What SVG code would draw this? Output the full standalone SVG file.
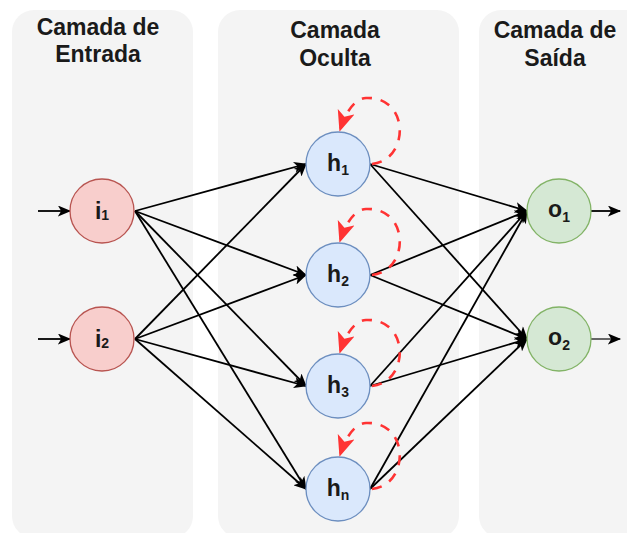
<svg xmlns="http://www.w3.org/2000/svg" width="627" height="533" viewBox="0 0 627 533">
  <style>
    .panel { fill: #f4f4f4; stroke: none; }
    .title { font-family: "Liberation Sans", Arial, sans-serif; font-weight: bold; font-size: 23px; fill: #1a1a1a; text-anchor: middle; }
    .lbl { font-family: "Liberation Sans", Arial, sans-serif; font-weight: bold; font-size: 23px; fill: #1a1a1a; text-anchor: middle; }
    .sub { font-size: 14px; }
    .in { fill: #f8cecc; stroke: #b85450; stroke-width: 1.3; }
    .hid { fill: #dae8fc; stroke: #6c8ebf; stroke-width: 1.3; }
    .out { fill: #d5e8d4; stroke: #82b366; stroke-width: 1.3; }
    .edge { fill: none; stroke: #000; stroke-width: 1.8; marker-end: url(#arrow); }
    .loop { fill: none; stroke: #ff3333; stroke-width: 2.6; stroke-dasharray: 10 9; marker-end: url(#arrowRed); }
  </style>
  <defs>
    <marker id="arrow" viewBox="0 0 12 10" markerWidth="14" markerHeight="11" refX="11" refY="5" markerUnits="userSpaceOnUse" orient="auto">
      <path d="M0,0 L12,5 L0,10 L3,5 Z" fill="#000"/>
    </marker>
    <marker id="arrowRed" viewBox="0 0 12 10" markerWidth="21" markerHeight="18" refX="11" refY="5" markerUnits="userSpaceOnUse" orient="auto">
      <path d="M0,0 L12,5 L0,10 L3,5 Z" fill="#ff3333"/>
    </marker>
    <path id="selfLoop" class="loop" d="M34,0 C72,-4 72,-68 28,-66 C16,-65 8,-52 2,-34"/>
  </defs>

  <!-- layer panels -->
  <g id="panels">
    <rect class="panel" x="12" y="10" width="181" height="528" rx="22"/>
    <rect class="panel" x="218" y="10" width="241" height="528" rx="22"/>
    <rect class="panel" x="479" y="10" width="170" height="528" rx="22"/>
    <text class="title" x="98" y="35">Camada de</text>
    <text class="title" x="98" y="62">Entrada</text>
    <text class="title" x="335" y="38">Camada</text>
    <text class="title" x="335" y="66">Oculta</text>
    <text class="title" x="555" y="38">Camada de</text>
    <text class="title" x="555" y="66">Saída</text>
  </g>

  <!-- connectors -->
  <g id="connectors">
    <line class="edge" x1="38" y1="211" x2="70" y2="211"/>
    <line class="edge" x1="38" y1="339" x2="70" y2="339"/>

    <line class="edge" x1="135" y1="211" x2="306" y2="164"/>
    <line class="edge" x1="135" y1="211" x2="306" y2="275"/>
    <line class="edge" x1="135" y1="211" x2="306" y2="386"/>
    <line class="edge" x1="135" y1="211" x2="306" y2="489"/>
    <line class="edge" x1="135" y1="339" x2="306" y2="164"/>
    <line class="edge" x1="135" y1="339" x2="306" y2="275"/>
    <line class="edge" x1="135" y1="339" x2="306" y2="386"/>
    <line class="edge" x1="135" y1="339" x2="306" y2="489"/>

    <line class="edge" x1="370" y1="164" x2="527" y2="211"/>
    <line class="edge" x1="370" y1="164" x2="527" y2="339"/>
    <line class="edge" x1="370" y1="275" x2="527" y2="211"/>
    <line class="edge" x1="370" y1="275" x2="527" y2="339"/>
    <line class="edge" x1="370" y1="386" x2="527" y2="211"/>
    <line class="edge" x1="370" y1="386" x2="527" y2="339"/>
    <line class="edge" x1="370" y1="489" x2="527" y2="211"/>
    <line class="edge" x1="370" y1="489" x2="527" y2="339"/>

    <line class="edge" x1="591" y1="211" x2="620" y2="211"/>
    <line class="edge" x1="591" y1="339" x2="620" y2="339" style="stroke:#555"/>

    <!-- recurrent self-loops on hidden units -->
    <use href="#selfLoop" x="338" y="164"/>
    <use href="#selfLoop" x="338" y="275"/>
    <use href="#selfLoop" x="338" y="386"/>
    <use href="#selfLoop" x="338" y="489"/>
  </g>

  <g id="i1">
    <circle class="in" cx="102" cy="211" r="32"/>
    <text class="lbl" x="102" y="219">i<tspan class="sub" dy="1">1</tspan></text>
  </g>
  <g id="i2">
    <circle class="in" cx="102" cy="339" r="32"/>
    <text class="lbl" x="102" y="347">i<tspan class="sub" dy="1">2</tspan></text>
  </g>

  <g id="h1">
    <circle class="hid" cx="338" cy="164" r="32"/>
    <text class="lbl" x="338" y="171">h<tspan class="sub" dy="4">1</tspan></text>
  </g>
  <g id="h2">
    <circle class="hid" cx="338" cy="275" r="32"/>
    <text class="lbl" x="338" y="282">h<tspan class="sub" dy="4">2</tspan></text>
  </g>
  <g id="h3">
    <circle class="hid" cx="338" cy="386" r="32"/>
    <text class="lbl" x="338" y="393">h<tspan class="sub" dy="4">3</tspan></text>
  </g>
  <g id="hn">
    <circle class="hid" cx="338" cy="489" r="32"/>
    <text class="lbl" x="338" y="496">h<tspan class="sub" dy="4">n</tspan></text>
  </g>

  <g id="o1">
    <circle class="out" cx="559" cy="211" r="32"/>
    <text class="lbl" x="559" y="217">o<tspan class="sub" dy="5">1</tspan></text>
  </g>
  <g id="o2">
    <circle class="out" cx="559" cy="339" r="32"/>
    <text class="lbl" x="559" y="345">o<tspan class="sub" dy="5">2</tspan></text>
  </g>
</svg>
